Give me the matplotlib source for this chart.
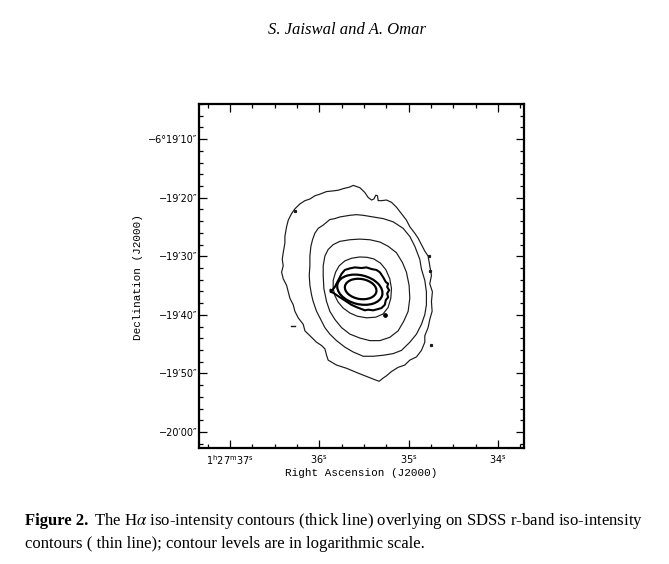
import numpy as np
import matplotlib
matplotlib.use("Agg")
import matplotlib.pyplot as plt
from matplotlib.patches import Ellipse, Polygon

# ---------------- data ----------------
# reference (centre) position: RA 1h27m35.528s, Dec -6d19'35.39"
RA0_SEC = 35.528
DEC0_ARCSEC = 35.39
COS_DEC = np.cos(np.deg2rad(6 + 19 / 60 + DEC0_ARCSEC / 3600))

ra_ticks_sec = [37, 36, 35, 34]
ra_tick_labels = [r'1$^{\mathrm{h}}$27$^{\mathrm{m}}$37$^{\mathrm{s}}$',
                  r'36$^{\mathrm{s}}$', r'35$^{\mathrm{s}}$', r'34$^{\mathrm{s}}$']
dec_ticks_arcsec = [10, 20, 30, 40, 50, 60]          # arcsec south of -6d19'00"
dec_tick_labels = ['\u22126\u00b019\u203210\u2033', '\u221219\u203220\u2033',
                   '\u221219\u203230\u2033', '\u221219\u203240\u2033',
                   '\u221219\u203250\u2033', '\u221220\u203200\u2033']

# SDSS r-band contours (thin); (east offset, north offset) in arcsec
r_contour_1 = [(1.39, 17.5), (0.28, 17.11), (-0.56, 16.28), (-1.11, 15.44), (-1.67, 15.0),
               (-2.06, 15.17), (-2.39, 15.83), (-2.67, 15.72), (-2.78, 14.89), (-3.33, 14.89),
               (-4.17, 15.0), (-5.0, 14.61), (-5.83, 13.78), (-6.67, 12.67), (-7.5, 11.56),
               (-8.06, 10.44), (-8.89, 9.33), (-9.44, 8.5), (-10.0, 7.39), (-10.56, 6.28),
               (-11.11, 5.44), (-11.39, 3.78), (-11.67, 2.11), (-11.39, 0.72), (-11.83, -0.67),
               (-11.67, -2.33), (-11.78, -4.0), (-11.39, -5.39), (-11.11, -6.78), (-10.56, -8.17),
               (-10.56, -9.28), (-10.0, -10.67), (-9.17, -11.78), (-8.06, -12.33), (-7.22, -13.17),
               (-6.11, -13.56), (-5.0, -14.28), (-4.17, -15.0), (-3.61, -15.39), (-2.94, -15.94),
               (-2.22, -15.67), (-0.83, -15.11), (0.83, -14.44), (2.5, -13.72), (4.17, -13.17),
               (5.56, -12.33), (5.83, -11.5), (6.11, -10.39), (6.67, -9.83), (7.5, -9.28),
               (8.33, -8.44), (9.44, -7.33), (9.72, -6.22), (10.56, -5.11), (11.11, -4.0),
               (11.39, -2.89), (11.94, -1.78), (12.22, -0.67), (12.5, 0.44), (13.06, 1.56),
               (13.33, 2.67), (13.06, 3.78), (13.22, 4.89), (13.06, 6.0), (12.78, 7.67),
               (12.78, 8.78), (12.5, 10.44), (12.22, 11.56), (11.67, 12.67), (11.11, 13.5),
               (10.28, 14.33), (9.44, 14.89), (8.61, 15.17), (7.78, 15.72), (6.94, 16.0),
               (5.83, 16.44), (4.72, 16.56), (3.89, 16.67), (3.06, 16.94), (1.94, 17.22)]

r_contour_2 = [(0.83, 12.5), (1.94, 12.39), (3.61, 12.11), (4.44, 11.83), (5.28, 11.67),
               (6.39, 10.72), (7.22, 10.17), (7.78, 9.33), (8.17, 8.22), (8.44, 7.11),
               (8.61, 5.44), (8.61, 3.78), (8.72, 2.11), (8.61, 0.44), (8.33, -1.22),
               (8.06, -2.33), (7.5, -4.0), (6.94, -5.11), (6.11, -6.78), (5.28, -7.89),
               (4.17, -9.0), (2.78, -10.11), (1.39, -10.94), (-0.28, -11.67), (-1.94, -11.67),
               (-3.61, -11.5), (-5.28, -11.22), (-6.67, -10.67), (-8.06, -9.28), (-9.17, -7.89),
               (-10.0, -6.22), (-10.56, -4.56), (-10.83, -2.89), (-10.83, -0.67), (-10.56, 1.28),
               (-10.0, 3.22), (-9.72, 4.89), (-8.89, 7.11), (-8.06, 8.78), (-6.94, 10.17),
               (-5.28, 11.28), (-3.61, 11.83), (-1.94, 12.11), (-0.28, 12.39)]

r_contour_3 = [(0.28, 8.33), (1.94, 8.22), (3.61, 7.94), (4.72, 7.39), (5.56, 6.56),
               (6.11, 5.44), (6.39, 3.78), (6.39, 2.11), (6.28, -0.11), (5.83, -2.33),
               (5.28, -4.0), (4.44, -5.39), (3.33, -6.78), (1.94, -7.89), (0.28, -8.56),
               (-1.39, -9.0), (-3.06, -9.0), (-4.72, -8.44), (-6.11, -7.33), (-7.06, -5.67),
               (-7.78, -4.0), (-8.06, -1.78), (-7.94, 0.44), (-7.5, 2.67), (-6.83, 4.33),
               (-5.83, 6.0), (-4.44, 7.11), (-3.06, 7.83), (-1.39, 8.22)]

r_contour_4 = [(0.28, 5.28), (1.67, 5.06), (2.78, 4.61), (3.72, 3.78), (4.33, 2.67),
               (4.72, 1.28), (4.72, -0.11), (4.44, -1.33), (3.89, -2.44), (3.06, -3.44),
               (1.94, -4.28), (0.72, -4.83), (-0.83, -5.11), (-2.39, -5.0), (-3.61, -4.44),
               (-4.44, -3.33), (-4.89, -1.78), (-5.0, -0.11), (-4.72, 1.56), (-4.06, 3.11),
               (-3.17, 4.22), (-2.06, 4.94), (-0.94, 5.22)]

# H-alpha contours (thick)
ha_contour_1 = [(5.0, -0.5), (4.44, 0.17), (3.89, 1.28), (3.33, 2.39), (2.78, 3.06),
                (1.94, 3.33), (1.11, 3.5), (0.0, 3.39), (-0.83, 3.5), (-1.67, 3.22),
                (-2.5, 3.06), (-3.06, 2.67), (-3.61, 1.83), (-4.06, 1.0), (-4.44, 0.72),
                (-4.28, 0.17), (-4.61, -0.39), (-4.28, -0.94), (-4.44, -1.61), (-4.06, -2.06),
                (-3.89, -2.89), (-3.33, -3.44), (-2.78, -3.61), (-1.94, -3.83), (-1.11, -3.72),
                (-0.56, -3.83), (0.0, -3.61), (0.83, -3.28), (1.67, -2.89), (2.5, -2.33),
                (3.33, -1.78), (4.17, -1.22), (4.72, -0.83), (5.17, -0.67), (5.17, -0.3)]
# elliptical H-alpha contours: (E0, N0, semi-major, semi-minor, angle deg)
ha_ellipses = [(0.28, -0.31, 3.85, 2.47, 14.7),
               (0.14, -0.19, 2.66, 1.71, 10.2)]
# tiny isolated contour islands
r_specks = [(11.11, 13.06), (-11.28, 5.44), (-11.39, 2.94), (-11.67, -9.67)]
r_dash = [(11.7, -6.56), (11.1, -6.56)]
ha_specks = [(-3.89, -4.56)]

# ---------------- figure ----------------
W, H = 669, 564
fig = plt.figure(figsize=(W / 100, H / 100), dpi=100)
ax = fig.add_axes([199 / W, 1 - 448 / H, 325 / W, 344 / H])
ax.set_xlim(27.11, -27.11)
ax.set_ylim(-27.33, 30.06)


def ra_to_e(ra):
    return (np.asarray(ra, float) - RA0_SEC) * 15 * COS_DEC


def dec_to_n(d):
    return DEC0_ARCSEC - np.asarray(d, float)


thin = dict(color='#1a1a1a', lw=0.85, joinstyle='round')
for c in (r_contour_1, r_contour_2, r_contour_3, r_contour_4):
    ax.add_patch(Polygon(c, closed=True, fill=False, **thin))
ax.add_patch(Polygon(ha_contour_1, closed=True, fill=False, color='black', lw=1.5,
                     joinstyle='round'))
for (e0, n0, a, b, ang) in ha_ellipses:
    ax.add_patch(Ellipse((e0, n0), 2 * a, 2 * b, angle=ang, fill=False,
                         color='black', lw=1.6))
se, sn = zip(*r_specks)
ax.plot(se, sn, 's', ms=1.3, color='#1a1a1a')
de, dn = zip(*r_dash)
ax.plot(de, dn, '-', lw=1.0, color='#1a1a1a')
he, hn = zip(*ha_specks)
ax.plot(he, hn, 'o', ms=2.4, color='black')

# ticks
ax.set_xticks(ra_to_e(ra_ticks_sec))
ax.set_xticklabels(ra_tick_labels)
ax.set_xticks(ra_to_e(np.arange(33.75, 37.5, 0.25)), minor=True)
ax.set_yticks(dec_to_n(dec_ticks_arcsec))
ax.set_yticklabels(dec_tick_labels)
ax.set_yticks(dec_to_n(np.arange(4, 64, 2)), minor=True)
ax.tick_params(which='both', direction='in', top=True, right=True,
               labelsize=7, width=0.9, colors='black')
ax.tick_params(axis='y', which='major', length=5.8, pad=1.2)
ax.tick_params(axis='x', which='major', length=5.8, pad=4)
ax.tick_params(which='minor', length=2.9)
for s in ax.spines.values():
    s.set_linewidth(1.6)

ax.set_xlabel('Right Ascension (J2000)', family='Liberation Mono', fontsize=7.9)
ax.set_ylabel('Declination (J2000)', family='Liberation Mono', fontsize=7.9)
ax.xaxis.set_label_coords(0.5, (448 - 468) / 344)
ax.yaxis.set_label_coords((143 - 199) / 325, 0.5 - 1.5 / 344)

# header and caption
fig.text(347 / W, 1 - 34 / H, 'S. Jaiswal and A. Omar', ha='center', va='baseline',
         family='Liberation Serif', style='italic', fontsize=12)
t1 = fig.text(25 / W, 1 - 525 / H, 'Figure 2.', ha='left', va='baseline',
              family='Liberation Serif', weight='bold', fontsize=12)
fig.canvas.draw()
bb = t1.get_window_extent(fig.canvas.get_renderer())
fig.text((bb.x1 + 6) / W, 1 - 525 / H,
         r'The H$\alpha$ iso-intensity contours (thick line) overlying on SDSS r-band iso-intensity',
         ha='left', va='baseline', family='Liberation Serif', fontsize=12.1,
         math_fontfamily='stix')
fig.text(25 / W, 1 - 548 / H,
         'contours ( thin line); contour levels are in logarithmic scale.',
         ha='left', va='baseline', family='Liberation Serif', fontsize=12.1)

fig.savefig('out.png', dpi=100, facecolor='white')
